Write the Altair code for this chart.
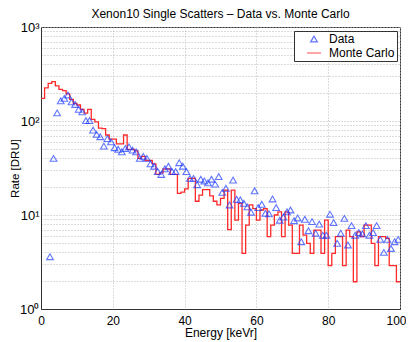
import altair as alt
import pandas as pd

# Monte Carlo histogram: one value per 1 keVr bin, bins starting at 0..99
mc_bin_start = list(range(0, 100))
mc_rate = [
    174, 225, 251, 262, 236, 217, 210, 194, 170, 154,
    148, 133, 121, 133, 104, 98, 84, 83, 71, 64,
    64, 57, 57, 71, 50, 50, 48, 40, 42, 38,
    38, 35, 27, 28, 31, 31, 27, 27, 17, 17.5,
    19, 24.5, 24.5, 14, 16.3, 18.6, 18.6, 16, 14, 12.8,
    15, 18.4, 7, 18.4, 8.8, 13.3, 3.9, 7.8, 12.8, 11.7,
    8.8, 11.3, 11.7, 5.9, 7.8, 10, 10.8, 5.9, 10.8, 7.8,
    3.9, 3.9, 7.8, 6.1, 5.0, 3.9, 6.9, 6.9, 3.9, 8.8,
    2.9, 3.9, 5.9, 5.9, 2.9, 6.9, 5.9, 1.95, 6.6, 5.9,
    7.8, 7.8, 5.0, 2.9, 5.9, 5.9, 5.65, 2.9, 2.9, 1.95,
]

# Measured data: bin centres 2.5 .. 99.5 keVr
data_energy = [k + 0.5 for k in range(2, 100)]
data_rate = [
    3.6, 40, 122, 164, 174, 189, 160, 150,
    133, 125, 101, 101, 80, 72, 68, 54, 65, 60,
    52, 50, 47, 51, 53, 49, 47, 40, 42, 40,
    35, 33, 29, 27, 31, 33, 29, 29, 36, 33,
    29, 24.5, 24.5, 21, 24, 23, 22, 24, 21.3, 25.6,
    17.4, 19.2, 12.8, 23.5, 14.7, 14.5, 13.3, 12.2, 10.7, 18.1,
    12, 13, 10.4, 10.3, 14.8, 12, 8.8, 9.5, 10.8, 11.3,
    8.7, 9.3, 5.2, 9.0, 6.8, 8.5, 6.4, 8.0, 6.1, 6.1,
    10.2, 8.3, 5.0, 6.4, 9.2, 4.8, 7.7, 6.1, 6.5, 6.3,
    7.7, 6.1, 6.5, 7.7, 5.5, 4.0, 5.5, 4.4, 5.2, 5.5,
]

series_names = ["Data", "Monte Carlo"]
x_ticks = [0, 20, 40, 60, 80, 100]
y_ticks = [m * 10 ** e for e in range(3) for m in range(1, 10)] + [1000]
title_text = "Xenon10 Single Scatters \u2013 Data vs. Monte Carlo"

mc_df = pd.DataFrame({
    "energy": mc_bin_start + [100],
    "rate": mc_rate + [mc_rate[-1]],
    "series": series_names[1],
})
data_df = pd.DataFrame({"energy": data_energy, "rate": data_rate, "series": series_names[0]})

FONT = "Liberation Sans"

x_enc = alt.X(
    "energy:Q",
    scale=alt.Scale(domain=[0, 100], nice=False, zero=False),
    axis=alt.Axis(values=x_ticks, title="Energy [keVr]", ticks=False,
                  labelPadding=6, titlePadding=1, labelFontSize=12, titleFontSize=12,
                  labelFlush=False,
                  labelOffset={"condition": {"test": "datum.value == 100", "value": -4}, "value": 0}),
)
y_enc = alt.Y(
    "rate:Q",
    scale=alt.Scale(type="log", domain=[1, 1000], nice=False),
    axis=alt.Axis(
        values=y_ticks,
        labelExpr="datum.value == 1 ? '10\u2070' : datum.value == 10 ? '10\u00b9' : "
                  "datum.value == 100 ? '10\u00b2' : datum.value == 1000 ? '10\u00b3' : ''",
        labelOverlap=False, labelFlush=False, labelFontSize=13, labelPadding=2,
        ticks=False, title="Rate [DRU]", titlePadding=-1, titleFontSize=11.5,
    ),
)

legend = alt.Legend(
    title=None, orient="none", legendX=253, legendY=4,
    fillColor="white", strokeColor="#333333", padding=2, cornerRadius=0,
    labelFont=FONT, labelFontSize=12, labelColor="black", labelOffset=7,
    symbolOffset=10, symbolStrokeWidth=1.2, rowPadding=0,
)

color = alt.Color("series:N", scale=alt.Scale(domain=series_names, range=["#1f3dff", "#ff2a2a"]),
                  legend=legend)

mc_layer = alt.Chart(mc_df).mark_line(interpolate="step-after", strokeWidth=1.3, clip=True).encode(
    x=x_enc, y=y_enc, color=color,
)
data_layer = alt.Chart(data_df).mark_point(filled=False, strokeWidth=1.1, clip=True).encode(
    x=x_enc, y=y_enc, color=color,
    shape=alt.Shape("series:N", scale=alt.Scale(domain=series_names, range=["triangle-up", "stroke"]),
                    legend=legend),
    size=alt.Size("series:N", scale=alt.Scale(type="ordinal", domain=series_names, range=[45, 196]),
                  legend=legend),
)

chart = alt.layer(mc_layer, data_layer).properties(
    width=359, height=282,
    title=alt.TitleParams(title_text, fontSize=12, font=FONT, fontWeight="normal", offset=0, color="black"),
    autosize=alt.AutoSizeParams(type="none"),
    padding={"left": 33, "top": 19, "right": 6, "bottom": 33},
).configure_view(
    stroke="#333333", strokeWidth=1,
).configure_axis(
    domainColor="#333333", gridColor="#b8b8b8", gridDash=[1, 2], gridWidth=1,
    labelFont=FONT, titleFont=FONT, labelColor="black", titleColor="black",
    titleFontWeight="normal",
)

chart.save("out.html", embed_options={"renderer": "svg", "actions": False})
